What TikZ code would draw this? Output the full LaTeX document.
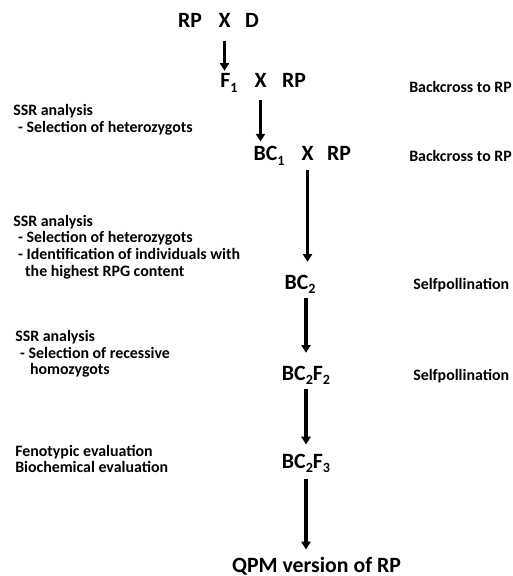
\documentclass[tikz,border=0pt]{standalone}
\usepackage{fontspec}
\setmainfont{Carlito}
\usetikzlibrary{arrows.meta,positioning}
\newcommand{\gsub}[1]{\raisebox{-0.22em}{\fontsize{10}{10}\selectfont #1}}

\begin{document}
\begin{tikzpicture}[
    x=0.025cm, y=-0.025cm,
    gen/.style={font=\fontsize{15.5}{18}\selectfont\bfseries, inner sep=0pt, anchor=base},
    note/.style={font=\fontsize{11.3}{11.8}\selectfont\bfseries, align=left, anchor=west, inner sep=0pt},
    flow/.style={-{Triangle[width=6.5pt,length=5.5pt]}, line width=2.5pt}
]
\useasboundingbox (0,0) rectangle (512,576);

% Generations
\node[gen] (rp0) at (190,28) {RP};
\node[gen] (x0) at (224.5,28) {X};
\node[gen] (d0) at (252,28) {D};
\node[gen] (f1) at (229,88) {F\gsub{1}};
\node[gen] (x1) at (260.5,88) {X};
\node[gen] (rp1) at (294,88) {RP};
\node[gen] (bc1) at (269,161) {BC\gsub{1}};
\node[gen] (x2) at (307.5,161) {X};
\node[gen] (rp2) at (339,161) {RP};
\node[gen] (bc2) at (300,289) {BC\gsub{2}};
\node[gen] (bc2f2) at (306,380) {BC\gsub{2}F\gsub{2}};
\node[gen] (bc2f3) at (306,468) {BC\gsub{2}F\gsub{3}};
\node[gen] (qpm) at (316.5,572) {QPM version of RP};

% Selection steps
\node[note] (ssr1) at (13,120) {SSR analysis\\\hspace*{3.5pt}- Selection of heterozygots};
\node[note] (ssr2) at (13,247) {SSR analysis\\\hspace*{3.5pt}- Selection of heterozygots\\\hspace*{3.5pt}- Identification of individuals with\\\hspace*{8.5pt}the highest RPG content};
\node[note] (ssr3) at (15,354) {SSR analysis\\\hspace*{3.5pt}- Selection of recessive\\\hspace*{10.5pt}homozygots};
\node[note] (eval) at (15,459) {Fenotypic evaluation\\Biochemical evaluation};

% Crossing steps
\node[note] (bcr1) at (409,87) {Backcross to RP};
\node[note] (bcr2) at (409,156) {Backcross to RP};
\node[note] (self1) at (413,285) {Selfpollination};
\node[note] (self2) at (413,376) {Selfpollination};

% Connections
\draw[flow, shorten <=9pt, shorten >=2pt] (x0.south) -- (x0.south |- f1.north);
\draw[flow, shorten <=8.5pt, shorten >=3.5pt] (x1.south) -- (x1.south |- bc1.north);
\draw[flow, shorten <=6.4pt, shorten >=9pt] (x2.south) -- (x2.south |- bc2.north);
\draw[flow, shorten <=3pt, shorten >=9pt] (bc2f2.north |- bc2.south) -- (bc2f2.north);
\draw[flow, shorten <=2.5pt, shorten >=6.4pt] (bc2f2.south) -- (bc2f3.north);
\draw[flow, shorten <=4pt, shorten >=5pt] (bc2f3.south) -- (bc2f3.south |- qpm.north);

\end{tikzpicture}
\end{document}
